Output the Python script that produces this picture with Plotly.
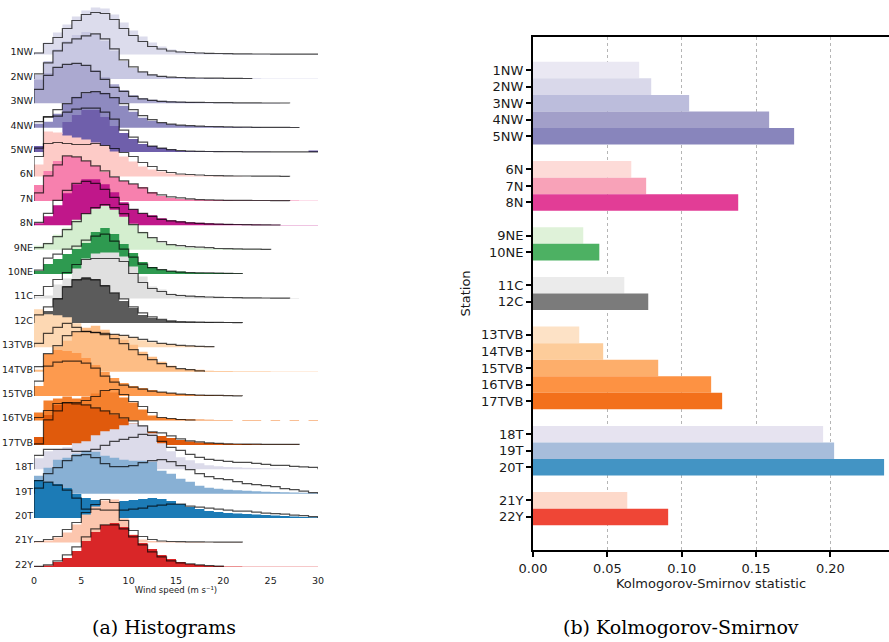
import plotly.graph_objects as go

# ---------------- data ----------------
STATIONS = ["1NW", "2NW", "3NW", "4NW", "5NW", "6N", "7N", "8N", "9NE", "10NE",
            "11C", "12C", "13TVB", "14TVB", "15TVB", "16TVB", "17TVB",
            "18T", "19T", "20T", "21Y", "22Y"]
GROUP_SIZES = [5, 3, 2, 2, 5, 3, 2]
KS_STAT = [0.0714, 0.0795, 0.1050, 0.1588, 0.1756,
           0.0661, 0.0761, 0.1380,
           0.0338, 0.0446,
           0.0614, 0.0775,
           0.0311, 0.0472, 0.0842, 0.1198, 0.1272,
           0.1951, 0.2025, 0.2361,
           0.0634, 0.0909]
BAR_COLORS = ['#eae8f3', '#d9d8ea', '#bcbddc', '#a29fc9', '#8885bc',
              '#fddbd8', '#f8a2b8', '#e23d96',
              '#dff2d9', '#4db163',
              '#ebebeb', '#7b7b7b',
              '#fde2c6', '#fdcc9a', '#fdae6b', '#fd9243', '#f3701b',
              '#e6e3f0', '#a7bddb', '#4394c4',
              '#fdd9ca', '#ef4636']
FILL_COLORS = ['#dcdcec', '#c8c8e2', '#aba9d0', '#8e8ac0', '#6f5fab',
               '#fdcbc7', '#f780ae', '#c0178a',
               '#d4eecf', '#2e9a50',
               '#e0e0e0', '#5b5b5b',
               '#fdd8b3', '#fdbd85', '#fd9a4e', '#f4802d', '#e05a0c',
               '#dcdbea', '#88b0d4', '#1c7bb6',
               '#fcc6ae', '#d92628']
WIND_TICKS = [0, 5, 10, 15, 20, 25, 30]
KS_TICKS = [0.00, 0.05, 0.10, 0.15, 0.20]

# histogram heights per 1 m/s bin (filled = one data set, outline = the other)
F_1NW = [2, 12, 22, 30, 38, 44, 47, 46, 40, 32, 24, 18, 12, 8, 5, 3.5, 2.5, 2, 1.5, 1, 0.8, 0.6, 0.5, 0.5, 0.4, 0.4, 0.3, 0.3, 0.3, 0.3]
L_1NW = [1.5, 11, 17, 26, 34, 40, 42, 41, 35, 26, 19, 13, 8, 5.5, 3.5, 2.5, 2, 1.5, 1.2, 1, 0.8, 0.7, 0.6, 0.5, 0.5, 0.4, 0.4, 0.3, 0.3, 0.3]
F_2NW = [4, 18, 30, 38, 44, 47, 45, 38, 28, 18, 11, 7, 4.5, 3, 2, 1.5, 1.2, 1, 0.8, 0.6, 0.5, 0.4, 0.3, 0.3, 0.2, 0.2, 0.2, 0.2, 0.2, 0.2]
L_2NW = [5, 16, 28, 36, 40, 43, 45, 40, 30, 19, 12, 7, 4, 2.5, 1.8, 1.4, 1.1, 0.9, 0.8, 0.7, 0.6, 0.5, 0.4]
F_3NW = [24, 30, 36, 39, 40, 38, 33, 26, 19, 13, 8, 5, 3.5, 2.5, 2, 1.5, 1.2, 1, 0.8, 0.6, 0.5, 0.4, 0.3, 0.3, 0.2, 0.2]
L_3NW = [14, 28, 36, 39, 40, 38, 32, 24, 16, 12, 7, 4.5, 3, 2, 1.5, 1.2, 1, 0.9, 0.8, 0.7, 0.6, 0.5, 0.4, 0.4, 0.3, 0.3, 0.3]
F_4NW = [4, 6, 14, 24, 31, 34, 36, 35, 30, 22, 16, 10, 7, 5, 3.5, 2.5, 2, 1.5, 1.2, 1, 0.8, 0.6, 0.5, 0.4, 0.3, 0.3, 0.2, 0.2]
L_4NW = [6, 11, 18, 24, 30, 35, 36, 34, 30, 24, 18, 12, 8, 5, 3.5, 2.5, 2, 1.5, 1.2, 1, 0.8, 0.6, 0.5, 0.4, 0.3, 0.3, 0.3, 0.2]
F_5NW = [6, 1, 18, 30, 37, 42, 42, 35, 26, 19, 13, 8, 6, 4, 2.5, 1.2, 0.8, 0.6, 0.5, 0.5, 0.4, 0.4, 0.3, 0.3, 0.3, 0.2, 0.2, 0.2, 0.2, 1.5]
L_5NW = [4, 35, 36, 40, 43, 44, 44, 40, 33, 22, 15, 10, 6, 4, 2.5, 1.5, 1, 0.8, 0.6, 0.5, 0.4, 0.4, 0.3, 0.3, 0.3, 0.2, 0.2, 0.2, 0.2, 0.2]
F_6N = [12, 45, 44, 41, 39, 37, 34, 31, 25, 20, 15, 10, 7, 5, 3, 2, 1.2, 0.8, 0.5, 0.4, 0.3, 0.2]
L_6N = [20, 33, 34, 33, 32, 32, 33, 31, 28, 24, 20, 14, 10, 6, 4, 2.5, 2, 1.5, 1, 0.8, 0.6, 0.5, 0.5, 0.4, 0.3, 0.3, 0.2]
F_7N = [16, 30, 40, 45, 44, 40, 35, 29, 24, 20, 17, 14, 9, 5, 3, 2, 1.5, 1.2, 1, 0.8, 0.6, 0.5, 0.5, 0.4, 0.4, 0.3, 0.3, 0.3, 0.2, 0.2]
L_7N = [8, 25, 36, 45, 44, 40, 35, 30, 24, 20, 17, 13, 8, 6, 4, 3, 2, 1.2, 1, 0.8, 0.6, 0.5, 0.5, 0.4, 0.4, 0.3, 0.3]
F_8N = [2, 9, 20, 32, 41, 46, 46, 41, 33, 23, 16, 12, 10, 7, 5, 4, 3, 2.5, 2, 1.5, 1.2, 1, 0.8, 0.7, 0.6, 0.5, 0.4, 0.3, 0.3, 0.3]
L_8N = [3, 12, 25, 35, 42, 44, 42, 36, 28, 21, 16, 12, 9, 6, 4.5, 3.5, 2.5, 2, 1.5, 1.2, 1, 0.8, 0.6, 0.5, 0.4, 0.3]
F_9NE = [4, 7, 15, 22, 30, 36, 41, 44, 40, 33, 26, 18, 12, 7, 5, 3, 2, 1.5, 1.2, 1, 0.8, 0.6, 0.5, 0.4, 0.3]
L_9NE = [2, 6, 13, 20, 28, 36, 42, 45, 42, 36, 25, 17, 12, 8, 5, 4, 3, 2.5, 2, 1.2, 1, 0.8, 0.6, 0.5, 0.4]
F_10NE = [3, 10, 15, 20, 25, 31, 42, 46, 40, 30, 21, 12, 7, 4.7, 3, 2.5, 1.5, 1.3, 1.2, 1, 0.8, 0.6]
L_10NE = [4, 16, 20, 25, 28, 34, 38, 40, 33, 25, 17, 10, 6.5, 4.5, 3, 2, 1.5, 1.3, 1.2, 1, 0.8, 0.6]
F_11C = [2, 3, 14, 20, 30, 40, 45, 46, 46, 42, 32, 22, 12, 9, 5, 4, 2.5, 2.3, 1.5, 1, 0.8, 0.7, 0.6, 0.5, 0.5, 0.4, 0.4, 0.4]
L_11C = [3, 12, 19, 26, 34, 39, 40, 40, 40, 37, 25, 16, 10, 7, 4, 3, 2.3, 1.8, 1.5, 1.2, 1, 0.8, 0.7, 0.6, 0.5, 0.4, 0.3]
F_12C = [2, 12, 25, 37, 44, 46, 44, 38, 30, 22, 15, 8, 5, 3, 2, 1, 0.8, 0.7, 0.6, 0.5, 0.4, 0.3]
L_12C = [8, 16, 24, 36, 43, 44, 43, 37, 30, 24, 16, 10, 6, 3.5, 2, 1.3, 1, 0.8, 0.6, 0.5, 0.4, 0.3]
F_13TVB = [38, 33, 32, 30, 24, 17, 15, 14, 13, 12, 10, 7, 5, 4, 3, 2, 1.5, 1, 0.8]
L_13TVB = [4, 14, 20, 24, 20, 16, 15, 14, 13, 12, 10, 8, 6, 4, 3, 2, 1.5, 1, 0.6]
F_14TVB = [2, 3, 25, 31, 40, 44, 46, 42, 37, 32, 27, 20, 15, 10, 6, 3, 2.5, 2, 1, 0.8, 0.6, 0.5, 0.5, 0.4, 0.4, 0.3, 0.3, 0.3, 0.3, 0.3]
L_14TVB = [5, 18, 26, 36, 40, 40, 39, 37, 33, 28, 22, 17, 12, 8, 5, 3, 2, 0.8]
F_15TVB = [10, 42, 46, 45, 43, 38, 31, 24, 18, 13, 10, 8, 6, 4, 3, 2, 1.5, 1.2, 1, 0.8, 0.5, 0.3]
L_15TVB = [15, 30, 34, 35, 35, 33, 28, 20, 14, 11, 9, 7, 5, 4, 3, 2, 1.5, 1, 0.8, 0.7, 0.5, 0.3]
F_16TVB = [8, 20, 22, 24, 22, 24, 27, 30, 28, 23, 18, 11, 5, 3, 2, 1.5, 1.2, 1, 0.8, 0.6, 0.6, 0, 0.5, 0.5, 0, 0.5, 0, 0.4, 0, 0.4]
L_16TVB = [3, 10, 17, 18, 18, 20, 24, 30, 31, 26, 19, 14, 8, 3, 2, 1, 0.5]
F_17TVB = [8, 30, 40, 42, 42, 40, 37, 34, 30, 26, 22, 17, 13, 9, 7, 5, 3.5, 2.5, 2, 1.5, 1.2, 1, 0.8, 0.6, 0.5, 0.4, 0.3, 0.3]
L_17TVB = [1, 25, 34, 42, 41, 40, 37, 34, 31, 27, 24, 19, 13, 12, 9, 6, 4, 3, 2, 1.5, 1, 0.9, 0.8, 0.7, 0.6, 0.5, 0.5, 0.5]
F_18T = [11, 18, 20, 22, 26, 28, 34, 38, 40, 44, 46, 44, 36, 26, 18, 12, 9, 6, 4, 3, 2.3, 2, 1.5, 1.2, 1, 0.8, 0.6, 0.5]
L_18T = [14, 20, 20, 20, 18, 18, 20, 24, 28, 30, 32, 35, 34, 28, 22, 19, 15, 12, 10, 9, 8, 7, 7, 6, 5, 4, 4, 3, 2.5, 2]
F_19T = [18, 26, 34, 36, 40, 43, 42, 38, 36, 34, 33, 33, 32, 23, 20, 15, 12, 8, 6, 5, 4, 3.5, 3, 2.5, 2, 1.8, 1.5, 1.2, 1, 0.8]
L_19T = [13, 20, 26, 33, 38, 39, 36, 30, 27, 27, 28, 31, 33, 34, 32, 28, 24, 20, 17, 15, 14, 12, 10, 9, 8, 7, 5, 4, 2.5, 1]
F_20T = [38, 36, 34, 30, 24, 20, 18, 15, 15, 17, 18, 19, 20, 19, 17, 14, 11, 9, 7, 6, 5, 4.5, 4, 3.5, 3, 2.5, 2, 1.5, 1, 0.8]
L_20T = [30, 36, 33, 28, 20, 9, 9, 8, 8, 8, 9, 10, 12, 13, 14, 14, 12, 11, 10, 9, 8, 7, 7, 6, 5, 4.5, 4, 3, 2.5, 1.5]
F_21Y = [1, 2, 5, 10, 18, 28, 36, 42, 43, 24, 8, 3, 1.5, 1, 0.8, 0.6, 0.5, 0.4, 0.3, 0.3, 0.2, 0.2]
L_21Y = [1, 3, 6, 13, 20, 30, 38, 43, 40, 22, 12, 6, 3, 1.5, 1, 0.8, 0.7, 0.6, 0.5, 0.4, 0.3, 0.3]
F_22Y = [0.5, 1.5, 5, 9, 16, 26, 35, 42, 44, 40, 32, 24, 18, 12, 8, 5, 3, 2, 1.2, 1, 0.3, 0.3, 0.2, 0.2, 0.2, 0.2, 0.2, 0.2, 0.2, 0.2]
L_22Y = [0.5, 2, 6, 12, 20, 30, 38, 42, 42, 38, 30, 22, 15, 10, 6, 4, 3, 2, 1.2, 0.8]

FILLS = [F_1NW, F_2NW, F_3NW, F_4NW, F_5NW, F_6N, F_7N, F_8N, F_9NE, F_10NE,
         F_11C, F_12C, F_13TVB, F_14TVB, F_15TVB, F_16TVB, F_17TVB,
         F_18T, F_19T, F_20T, F_21Y, F_22Y]
LINES = [L_1NW, L_2NW, L_3NW, L_4NW, L_5NW, L_6N, L_7N, L_8N, L_9NE, L_10NE,
         L_11C, L_12C, L_13TVB, L_14TVB, L_15TVB, L_16TVB, L_17TVB,
         L_18T, L_19T, L_20T, L_21Y, L_22Y]

# ---------------- layout constants ----------------
W, H = 889, 642
RIDGE_TOP = 54.5      # baseline of first ridge (units = px of left panel)
RIDGE_STEP = 24.4
LEFT_BOTTOM = 573     # px where left panel ends
LABEL_LIFT = 2.5

def ridge_base(i):
    return -(RIDGE_TOP + RIDGE_STEP * i)

def step_xy(h, base):
    n = len(h)
    x = [0.0] + [float(k) for k in range(n)] + [float(n), float(n)]
    y = [base] + [base + v for v in h] + [base + h[-1], base]
    return x, y

fig = go.Figure()

# filled histograms
for i, name in enumerate(STATIONS):
    x, y = step_xy(FILLS[i], ridge_base(i))
    fig.add_trace(go.Scatter(x=x, y=y, mode="lines", fill="toself",
                             fillcolor=FILL_COLORS[i],
                             line=dict(shape="hv", width=0, color=FILL_COLORS[i]),
                             hoverinfo="skip", showlegend=False,
                             xaxis="x", yaxis="y"))
# outline histograms
for i, name in enumerate(STATIONS):
    x, y = step_xy(LINES[i], ridge_base(i))
    fig.add_trace(go.Scatter(x=x, y=y, mode="lines",
                             line=dict(shape="hv", width=1.2, color="rgba(0,0,0,0.7)"),
                             hoverinfo="skip", showlegend=False,
                             xaxis="x", yaxis="y"))

# KS bars with gaps between groups
positions = []
pos = 1
for g in GROUP_SIZES:
    for _ in range(g):
        positions.append(pos)
        pos += 1
    pos += 1

fig.add_trace(go.Bar(x=KS_STAT, y=positions, orientation="h", width=1.0,
                     marker=dict(color=BAR_COLORS, line=dict(width=0)),
                     showlegend=False, xaxis="x2", yaxis="y2"))

TXT = "#1a1a1a"
fig.update_layout(
    template="none",
    width=W, height=H,
    margin=dict(l=0, r=0, t=0, b=0, autoexpand=False),
    paper_bgcolor="white", plot_bgcolor="rgba(0,0,0,0)",
    font=dict(family="DejaVu Sans", color=TXT),
    xaxis=dict(domain=[34 / W, 318 / W], range=[0, 30], automargin=False,
               tickvals=WIND_TICKS, ticks="", showline=False, showgrid=False,
               zeroline=False, tickfont=dict(size=9.5, color=TXT),
               title=dict(text="Wind speed (m s⁻¹)", font=dict(size=8.5, color=TXT),
                          standoff=1),
               anchor="y"),
    yaxis=dict(domain=[(H - LEFT_BOTTOM) / H, 1.0], range=[-LEFT_BOTTOM, 0],
               automargin=False,
               tickvals=[ridge_base(i) + LABEL_LIFT for i in range(len(STATIONS))],
               ticktext=STATIONS, ticks="", showline=False, showgrid=False,
               zeroline=False, tickfont=dict(size=9.5, color=TXT), anchor="x"),
    xaxis2=dict(domain=[533 / W, 1.0], range=[0, 0.2394], automargin=False,
                tickvals=KS_TICKS, tickformat=".2f",
                ticks="outside", ticklen=5, tickwidth=1.5, tickcolor="black",
                showline=True, mirror=True, linecolor="black", linewidth=2,
                showgrid=True, gridcolor="#b5b5b5", griddash="dot", gridwidth=1,
                zeroline=False, tickfont=dict(size=13, color=TXT),
                title=dict(text="Kolmogorov-Smirnov statistic",
                           font=dict(size=13, color=TXT), standoff=3),
                anchor="y2"),
    yaxis2=dict(domain=[(H - 550) / H, (H - 37) / H], range=[pos, -1],
                automargin=False,
                tickvals=positions, ticktext=STATIONS,
                ticks="outside", ticklen=5, tickwidth=1.5, tickcolor="black",
                showline=True, linecolor="black", linewidth=2,
                showgrid=False, zeroline=False,
                tickfont=dict(size=13, color=TXT),
                title=dict(text="Station", font=dict(size=13, color=TXT), standoff=8),
                anchor="x2"),
    annotations=[
        dict(text="(a) Histograms", x=164 / W, y=(H - 627) / H, xref="paper", yref="paper",
             showarrow=False, font=dict(family="DejaVu Serif", size=19, color="black"),
             xanchor="center", yanchor="middle"),
        dict(text="(b) Kolmogorov-Smirnov", x=681 / W, y=(H - 627) / H, xref="paper", yref="paper",
             showarrow=False, font=dict(family="DejaVu Serif", size=19, color="black"),
             xanchor="center", yanchor="middle"),
    ],
)

fig.write_html("out.html")
